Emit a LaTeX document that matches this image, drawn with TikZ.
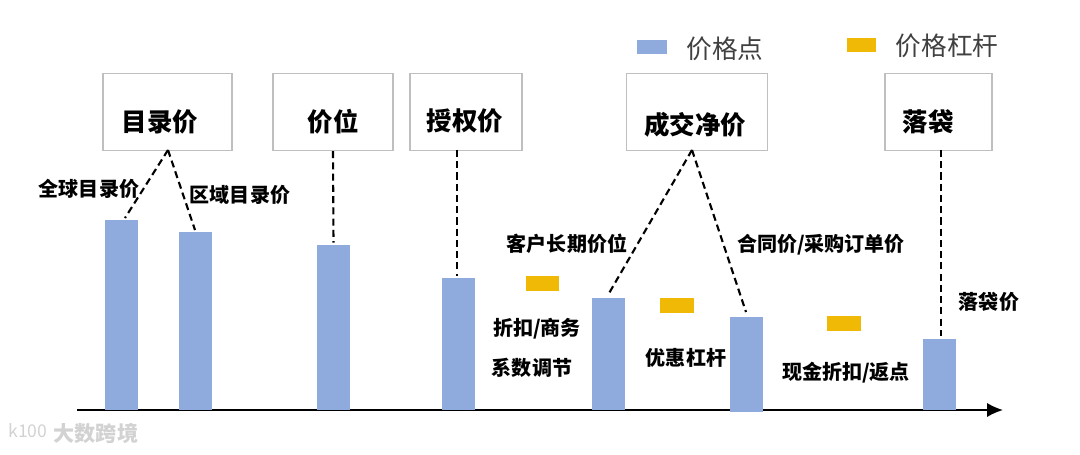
\documentclass[tikz,border=0pt]{standalone}
\usepackage{fontspec}
\usetikzlibrary{arrows.meta}
\setmainfont{Noto Sans CJK SC}
\tikzset{
  pricebar/.style={fill={rgb,255:red,143;green,170;blue,220},draw=none,inner sep=0pt,minimum width=0.66cm,anchor=south},
  leverbar/.style={fill={rgb,255:red,240;green,185;blue,5},draw=none,inner sep=0pt,minimum width=0.67cm,minimum height=0.3cm},
  titlebox/.style={draw={rgb,255:red,191;green,191;blue,191},line width=0.8pt,fill=white,inner sep=0pt,minimum height=1.54cm},
  titletext/.style={font=\fontsize{14.5}{16}\selectfont\bfseries,inner sep=0pt},
  pricetext/.style={font=\fontsize{11.4}{13}\selectfont\bfseries,inner sep=0pt},
  legendtext/.style={font=\fontsize{14.6}{16}\selectfont,text={rgb,255:red,64;green,64;blue,64},inner sep=0pt},
  marktext/.style={text={rgb,255:red,210;green,210;blue,210},inner sep=0pt},
  pricelink/.style={line width=1.2pt,dash pattern=on 4pt off 2.4pt}
}
\begin{document}
\begin{tikzpicture}[x=0.02cm,y=-0.02cm]
  \useasboundingbox (0,0) rectangle (1080,454);
  % axis
  \coordinate (axisstart) at (77,410);
  \coordinate (axisend) at (1003,410);
  \draw [-{Latex[length=9pt,width=8pt]},line width=0.9pt] (axisstart) -- (axisend);
  % price bars
  \node [pricebar,minimum height=3.8cm] (listglobal) at (121.5,410) {};
  \node [pricebar,minimum height=3.56cm] (listregion) at (195.5,410) {};
  \node [pricebar,minimum height=3.3cm] (pocketrank) at (333.5,410) {};
  \node [pricebar,minimum height=2.64cm] (authorized) at (458.5,410) {};
  \node [pricebar,minimum height=2.24cm] (customer) at (608.5,410) {};
  \node [pricebar,minimum height=1.9cm] (contract) at (746,412) {};
  \node [pricebar,minimum height=1.42cm] (pocket) at (939.5,410) {};
  % lever bars
  \node [leverbar] (discount) at (542.5,283.5) {};
  \node [leverbar] (promo) at (677,305.5) {};
  \node [leverbar] (rebate) at (844,323.5) {};
  % title boxes
  \node [titlebox,minimum width=2.58cm] (listbox) at (167.5,112) {};
  \node [titlebox,minimum width=2.4cm] (rankbox) at (333,112) {};
  \node [titlebox,minimum width=2.24cm] (authbox) at (466,112) {};
  \node [titlebox,minimum width=2.82cm] (netbox) at (697,112) {};
  \node [titlebox,minimum width=2.14cm] (pocketbox) at (938.5,112) {};
  \node [titletext] (listtitle) at (160,122) {目录价};
  \node [titletext] (ranktitle) at (333,122) {价位};
  \node [titletext] (authtitle) at (465,121) {授权价};
  \node [titletext] (nettitle) at (695,125) {成交净价};
  \node [titletext] (pockettitle) at (928,122) {落袋};
  % dashed links
  \coordinate (listfoot) at (168,150);
  \coordinate (netfoot) at (692,150);
  \coordinate (authfoot) at (457,150);
  \coordinate (pocketfoot) at (941,150);
  \coordinate (globaltip) at (125,218);
  \coordinate (regiontip) at (195,230);
  \coordinate (authtip) at (457,276);
  \coordinate (customertip) at (608,295);
  \coordinate (contracttip) at (746,312);
  \coordinate (pockettip) at (941,336);
  \draw [pricelink] (listfoot) -- (globaltip);
  \draw [pricelink] (listfoot) -- (regiontip);
  \draw [pricelink,shorten >=1pt] (rankbox.south) -- (pocketrank.north);
  \draw [pricelink] (authfoot) -- (authtip);
  \draw [pricelink] (netfoot) -- (customertip);
  \draw [pricelink] (netfoot) -- (contracttip);
  \draw [pricelink] (pocketfoot) -- (pockettip);
  % labels
  \node [pricetext] (globallabel) at (89,189) {全球目录价};
  \node [pricetext] (regionlabel) at (240,195) {区域目录价};
  \node [pricetext] (customerlabel) at (567,244) {客户长期价位};
  \node [pricetext] (contractlabel) at (821,245) {合同价/采购订单价};
  \node [pricetext] (discountone) at (537,329) {折扣/商务};
  \node [pricetext] (discounttwo) at (532,368) {系数调节};
  \node [pricetext] (promolabel) at (686,358) {优惠杠杆};
  \node [pricetext] (rebatelabel) at (846,373) {现金折扣/返点};
  \node [pricetext] (pocketlabel) at (989,302) {落袋价};
  % legend
  \node [pricebar,anchor=center,minimum width=0.6cm,minimum height=0.28cm] (legendpoint) at (652,47) {};
  \node [leverbar,minimum width=0.58cm,minimum height=0.28cm] (legendlever) at (861.5,45) {};
  \node [legendtext] (legendpointtext) at (725,49) {价格点};
  \node [legendtext] (legendlevertext) at (947,46) {价格杠杆};
  % watermark
  \node [marktext,font=\fontsize{10}{12}\selectfont] (marklogo) at (28,431) {k100};
  \node [marktext,font=\fontsize{12}{14}\selectfont\bfseries] (markname) at (96,433) {大数跨境};
\end{tikzpicture}
\end{document}
